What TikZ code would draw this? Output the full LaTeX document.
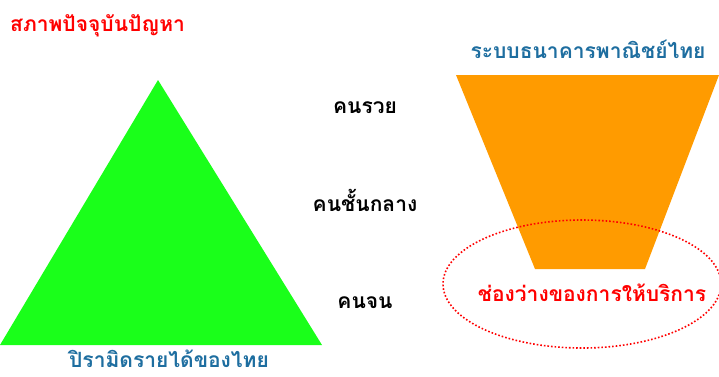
\documentclass[tikz,border=0pt]{standalone}
\usepackage{fontspec}
\newfontfamily\thaifont[Script=Thai]{Loma}
\definecolor{tgreen}{RGB}{26,255,26}
\definecolor{torange}{RGB}{255,155,0}
\definecolor{tblue}{RGB}{30,110,160}
\definecolor{tred}{RGB}{255,0,0}
\tikzset{
  lbl/.style={font=\thaifont\bfseries\fontsize{21}{24}\selectfont, inner sep=0pt, anchor=base},
}
\begin{document}
\begin{tikzpicture}[x=1pt,y=-1pt]
\useasboundingbox (0,0) rectangle (719,376);
\fill[white] (0,0) rectangle (719,376);
\fill[tgreen] (158,80) -- (322,345) -- (0,345) -- cycle;
\fill[torange] (456,75) -- (719,75) -- (645,269) -- (535,269) -- cycle;
\draw[tred, line width=1.6pt, dotted] (582,284) ellipse [x radius=139, y radius=64];
\node[lbl, text=tred, anchor=base west] (title) at (10,31) {สภาพปัจจุบันปัญหา};
\node[lbl, text=tblue] (bank) at (588,58) {ระบบธนาคารพาณิชย์ไทย};
\node[lbl] (rich) at (365,113) {คนรวย};
\node[lbl] (mid) at (365,211) {คนชั้นกลาง};
\node[lbl] (poor) at (365,308) {คนจน};
\node[lbl, text=tred] (gap) at (592,301) {ช่องว่างของการให้บริการ};
\node[lbl, text=tblue, text depth=0pt] (pyr) at (169,367) {ปิรามิดรายได้ของไทย};
\end{tikzpicture}
\end{document}
